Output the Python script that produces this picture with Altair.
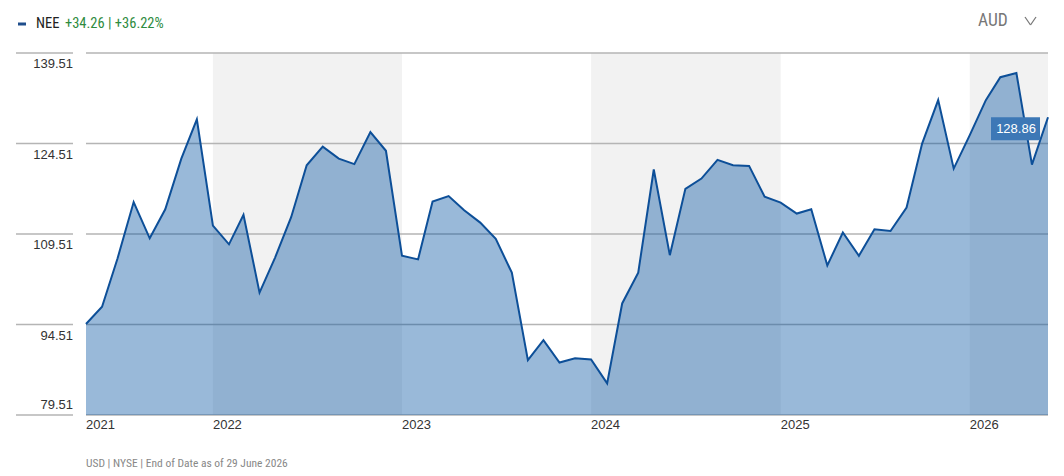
import altair as alt
import pandas as pd

# ---- data ----
months = pd.date_range("2021-05-01", "2026-06-01", freq="MS").strftime("%Y-%m-%d").tolist()
prices = [94.60, 97.45, 105.5, 114.8, 108.8, 113.6, 122.0, 128.5,
          110.9, 107.8, 112.7, 99.8, 105.6, 112.3, 120.9, 124.0, 122.0, 121.1, 126.4, 123.3,
          105.9, 105.3, 114.9, 115.8, 113.45, 111.4, 108.7, 103.1, 88.6, 91.9, 88.2, 88.9,
          88.7, 84.75, 98.0, 103.1, 120.2, 106.0, 117.0, 118.7, 121.8, 120.9, 120.8, 115.7,
          114.7, 112.9, 113.6, 104.3, 109.75, 105.9, 110.3, 110.0, 113.9, 124.5, 131.7, 120.35,
          125.9, 131.7, 135.5, 136.2, 121.0, 128.86]
y_ticks = [79.51, 94.51, 109.51, 124.51, 139.51]
year_label_dates = ["2021-05-01", "2022-01-01", "2023-01-01", "2024-01-01", "2025-01-01", "2026-01-01"]
year_labels = ["2021", "2022", "2023", "2024", "2025", "2026"]
band_starts = ["2022-01-01", "2024-01-01", "2026-01-01"]
band_ends = ["2023-01-01", "2025-01-01", "2026-06-01"]
last_price = "128.86"
ticker = "NEE"
change_text = "+34.26 | +36.22%"
currency = "AUD"
footer = "USD | NYSE | End of Date as of 29 June 2026"

NARROW = "'Roboto Condensed', 'Open Sans Condensed', 'DejaVu Sans Condensed', 'Liberation Sans Narrow', Roboto, sans-serif"
W, H = 962, 362
df = pd.DataFrame({"date": months, "price": prices})
bands = pd.DataFrame({"start": band_starts, "end": band_ends})
ticks = pd.DataFrame({"v": y_ticks, "label": [f"{v:.2f}" for v in y_ticks]})
years = pd.DataFrame({"date": year_label_dates, "label": year_labels})
last = df.iloc[[-1]].assign(label=last_price)

xscale = alt.Scale(domain=[months[0], months[-1]])
yscale = alt.Scale(domain=[y_ticks[0], y_ticks[-1]], zero=False, nice=False)

band_layer = alt.Chart(bands).mark_rect(color="#f2f2f2").encode(
    x=alt.X("start:T", scale=xscale, axis=None), x2="end:T",
    y=alt.value(0), y2=alt.value(H))

grid = alt.Chart(ticks).mark_rule(color="#b5b5b5", strokeWidth=1.6).encode(
    y=alt.Y("v:Q", scale=yscale, axis=None), x=alt.value(0), x2=alt.value(W))
grid_stub = alt.Chart(ticks).mark_rule(color="#b5b5b5", strokeWidth=1.6).encode(
    y=alt.Y("v:Q", scale=yscale, axis=None), x=alt.value(-70), x2=alt.value(-13))

ylab_top = alt.Chart(ticks[ticks.v > y_ticks[0]]).mark_text(
    align="right", baseline="top", dy=5, fontSize=13, color="#333333", font="Liberation Sans"
).encode(y=alt.Y("v:Q", scale=yscale, axis=None), x=alt.value(-13), text="label:N")
ylab_bot = alt.Chart(ticks[ticks.v == y_ticks[0]]).mark_text(
    align="right", baseline="bottom", dy=-3, fontSize=13, color="#333333", font="Liberation Sans"
).encode(y=alt.Y("v:Q", scale=yscale, axis=None), x=alt.value(-13), text="label:N")

xlab = alt.Chart(years).mark_text(
    align="left", baseline="top", fontSize=13, color="#333333", font="Liberation Sans"
).encode(x=alt.X("date:T", scale=xscale, axis=None), y=alt.value(H + 4), text="label:N")

area = alt.Chart(df).mark_area(color="#004fa0", opacity=0.4).encode(
    x=alt.X("date:T", scale=xscale, axis=None),
    y=alt.Y("price:Q", scale=yscale, axis=None), y2=alt.datum(y_ticks[0]))
line = alt.Chart(df).mark_line(color="#0d4f98", strokeWidth=2).encode(
    x=alt.X("date:T", scale=xscale, axis=None), y=alt.Y("price:Q", scale=yscale, axis=None))

box = alt.Chart(last).mark_rect(color="#3d78b6", xOffset=-57, x2Offset=-8, yOffset=0, y2Offset=23).encode(
    x=alt.X("date:T", scale=xscale, axis=None), x2="date:T",
    y=alt.Y("price:Q", scale=yscale, axis=None), y2="price:Q")
box_text = alt.Chart(last).mark_text(color="white", fontSize=13, font="Liberation Sans",
                                     align="center", baseline="middle", dx=-32, dy=12).encode(
    x=alt.X("date:T", scale=xscale, axis=None), y=alt.Y("price:Q", scale=yscale, axis=None),
    text="label:N")

one = pd.DataFrame({"a": [0]})
dash = alt.Chart(one).mark_rule(color="#1f4e8c", strokeWidth=3).encode(
    x=alt.value(-68), x2=alt.value(-60), y=alt.value(-29))
t_ticker = alt.Chart(one).mark_text(align="left", baseline="middle", fontSize=14.5,
                                    font=NARROW, color="#222222").encode(
    x=alt.value(-50), y=alt.value(-29), text=alt.value(ticker))
t_change = alt.Chart(one).mark_text(align="left", baseline="middle", fontSize=14.5,
                                    font=NARROW, color="#2e8b3e").encode(
    x=alt.value(-21), y=alt.value(-29), text=alt.value(change_text))
t_cur = alt.Chart(one).mark_text(align="left", baseline="middle", fontSize=17.5,
                                 font=NARROW, color="#777777").encode(
    x=alt.value(892), y=alt.value(-32), text=alt.value(currency))
chev_a = alt.Chart(one).mark_rule(color="#777777", strokeWidth=1.3).encode(
    x=alt.value(939), x2=alt.value(944.5), y=alt.value(-36), y2=alt.value(-28))
chev_b = alt.Chart(one).mark_rule(color="#777777", strokeWidth=1.3).encode(
    x=alt.value(944.5), x2=alt.value(950), y=alt.value(-28), y2=alt.value(-36))
t_footer = alt.Chart(one).mark_text(align="left", baseline="middle", fontSize=11.5,
                                    font=NARROW, color="#888888").encode(
    x=alt.value(0), y=alt.value(H + 49), text=alt.value(footer))

chart = alt.layer(
    band_layer, grid, grid_stub, area, line, ylab_top, ylab_bot, xlab, box, box_text,
    dash, t_ticker, t_change, t_cur, chev_a, chev_b, t_footer
).properties(
    width=W, height=H,
    padding={"left": 78, "top": 45, "right": 8, "bottom": 60},
    autosize=alt.AutoSizeParams(type="none"),
    background="white",
).configure_view(stroke=None)

chart.save("out.html", embed_options={"renderer": "svg", "actions": False})
